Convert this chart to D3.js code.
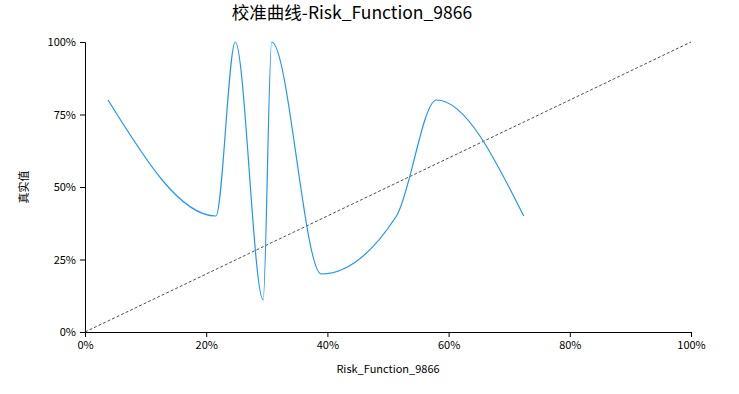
<!DOCTYPE html>
<html><head><meta charset="utf-8">
<script src="https://cdn.jsdelivr.net/npm/d3@7"></script>
<style>body{margin:0;background:#fff}svg{display:block}text{font-family:"Microsoft YaHei","Noto Sans CJK SC",sans-serif}</style>
</head><body><svg id="c" width="739" height="394"></svg>
<script>
const predicted = [3.8, 21.6, 24.8, 29.4, 30.8, 39.0, 51.4, 58.0, 72.4];
const observed  = [80, 40, 100, 11.1, 100, 20, 40, 80, 40];
const xTicks = [0, 20, 40, 60, 80, 100];
const yTicks = [0, 25, 50, 75, 100];
const diagonal = [0, 100];
const title = "校准曲线-Risk_Function_9866";
const xLabel = "Risk_Function_9866";
const yLabel = "真实值";

const svg = d3.select("#c");
const m = {l:85, r:48, t:42, b:62};
const W = 739, H = 394;
const x = d3.scaleLinear().domain([0,100]).range([m.l, W-m.r]);
const y = d3.scaleLinear().domain([0,100]).range([H-m.b, m.t]);

const xa = svg.append("g").attr("transform",`translate(0,${H-m.b})`)
  .call(d3.axisBottom(x).tickValues(xTicks).tickFormat(d=>d+"%").tickSizeOuter(0).tickSize(5).tickPadding(4));
const ya = svg.append("g").attr("transform",`translate(${m.l},0)`)
  .call(d3.axisLeft(y).tickValues(yTicks).tickFormat(d=>d+"%").tickSizeOuter(0).tickSize(5).tickPadding(4));
[xa,ya].forEach(a=>{a.selectAll("text").attr("font-size",11).attr("fill","#000").style("font-family",'"Microsoft YaHei","Noto Sans CJK SC",sans-serif');
  a.selectAll("path,line").attr("stroke","#000");});

svg.append("line").attr("x1",x(diagonal[0])).attr("y1",y(diagonal[0])).attr("x2",x(diagonal[1])).attr("y2",y(diagonal[1]))
  .attr("stroke","#222").attr("stroke-width",0.8).attr("stroke-dasharray","3,2");

const pts = predicted.map((p,i)=>[p, observed[i]]);
svg.append("path").datum(pts).attr("fill","none").attr("stroke","#2196F3").attr("stroke-width",1.2)
  .attr("d", d3.line().x(d=>x(d[0])).y(d=>y(d[1])).curve(d3.curveMonotoneX));

svg.append("text").attr("x",352).attr("y",19).attr("text-anchor","middle").attr("font-size",17.5).attr("fill","#000").text(title);
svg.append("text").attr("x",(m.l+W-m.r)/2).attr("y",373).attr("text-anchor","middle").attr("font-size",11).attr("fill","#000").text(xLabel);
svg.append("text").attr("transform",`translate(28,${(m.t+H-m.b)/2}) rotate(-90)`).attr("text-anchor","middle").attr("font-size",11).attr("fill","#000").text(yLabel);
</script></body></html>
